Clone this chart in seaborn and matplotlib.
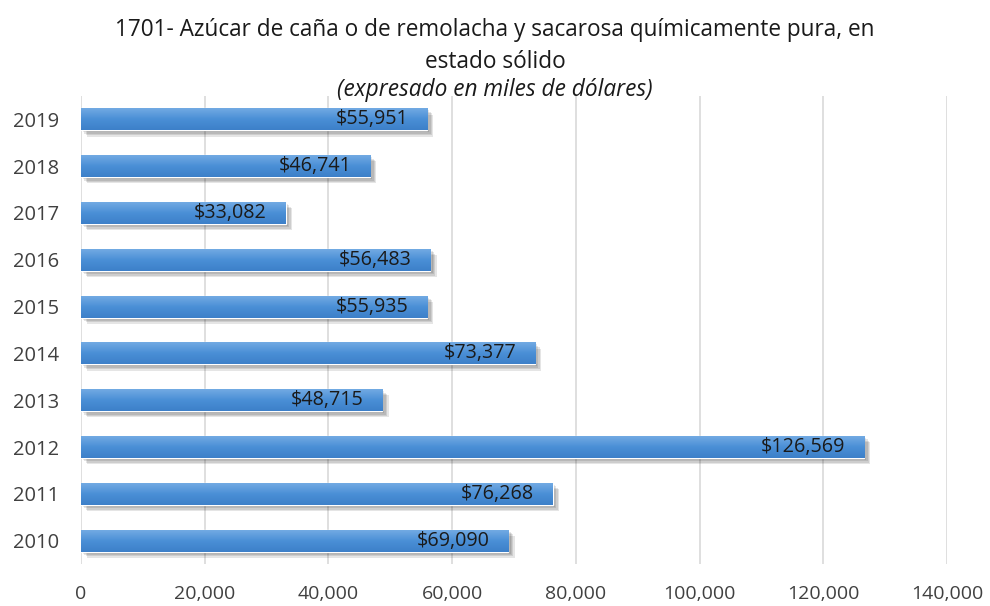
import matplotlib
matplotlib.use("Agg")
import matplotlib.pyplot as plt
import matplotlib.patheffects as pe
from matplotlib.colors import LinearSegmentedColormap
import seaborn as sns
import pandas as pd
import numpy as np

years = ["2019", "2018", "2017", "2016", "2015", "2014", "2013", "2012", "2011", "2010"]
values = [55951, 46741, 33082, 56483, 55935, 73377, 48715, 126569, 76268, 69090]
xticks = [0, 20000, 40000, 60000, 80000, 100000, 120000, 140000]

sns.set_theme(style="white")
plt.rcParams['font.family'] = ['Open Sans', 'DejaVu Sans']

df = pd.DataFrame({"year": years, "value": values})

fig = plt.figure(figsize=(9.9, 6.06), dpi=100)
ax = fig.add_axes([0.0818, 0.0693, 0.875, 0.7723])

sns.barplot(data=df, x="value", y="year", order=years, orient="h",
            color="#4a8fd6", saturation=1, width=0.47, ax=ax, zorder=3)

shadow = [pe.SimplePatchShadow(offset=(d, -d), shadow_rgbFace="#000000", alpha=0.10)
          for d in (1.5, 2.5, 3.5, 4.5)]
for p in ax.patches:
    p.set_path_effects(shadow + [pe.Normal()])

cmap = LinearSegmentedColormap.from_list("g", ["#72aae3", "#4a8fd6", "#3d80c9"])
for p in list(ax.patches):
    x0, y0 = p.get_x(), p.get_y()
    w, h = p.get_width(), p.get_height()
    grad = np.linspace(0, 1, 50).reshape(-1, 1)
    im = ax.imshow(grad, extent=(x0, x0 + w, y0 + h, y0), aspect="auto", cmap=cmap,
                   zorder=4, origin="upper")
    im.set_clip_path(p)

for i, v in enumerate(values):
    ax.text(v - 3000, i, f"${v:,}", ha="right", va="center", fontsize=14.2,
            color="#1a1a1a", zorder=6)

ax.set_xlim(0, 140000)
ax.set_ylim(9.5, -0.5)
ax.set_xticks(xticks)
ax.set_xticklabels([f"{t:,}" for t in xticks], fontsize=14, color="#404040")
ax.tick_params(axis="y", labelsize=14.5, labelcolor="#404040", length=0, pad=16)
ax.tick_params(axis="x", length=0, pad=15)
ax.set_xlabel("")
ax.set_ylabel("")
ax.grid(axis="x", color="#d9d9d9", linewidth=1.2, zorder=0)
ax.set_axisbelow(True)
for s in ax.spines.values():
    s.set_visible(False)

fig.text(0.5, 0.950, "1701- Azúcar de caña o de remolacha y sacarosa químicamente pura, en",
         ha="center", va="center", fontsize=16.3, color="#1a1a1a")
fig.text(0.5, 0.898, "estado sólido", ha="center", va="center", fontsize=16.3, color="#1a1a1a")
fig.text(0.5, 0.851, "(expresado en miles de dólares)", ha="center", va="center",
         fontsize=16.3, style="italic", color="#1a1a1a")

fig.savefig("out.png", dpi=100)
